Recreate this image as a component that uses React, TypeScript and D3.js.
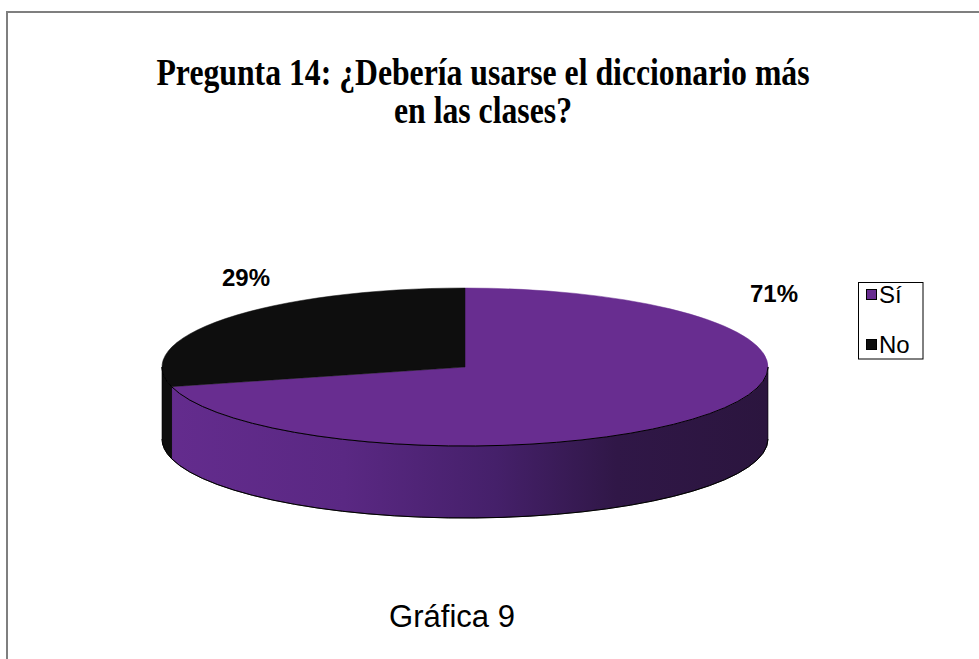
import React from "react";
import * as d3 from "d3";

const categories = ["Sí", "No"];
const values = [71, 29];
const labels = ["71%", "29%"];
const colors = ["#682d90", "#0e0e0e"];
const titleLines = ["Pregunta 14: ¿Debería usarse el diccionario más", "en las clases?"];
const caption = "Gráfica 9";

const W = 979;
const H = 659;
const cx = 465;
const cy = 367;
const rx = 303;
const ry = 79;
const depth = 72;

const pt = (a: number, dy = 0): [number, number] => [cx + rx * Math.sin(a), cy - ry * Math.cos(a) + dy];

function topPath(a0: number, a1: number) {
  const [x0, y0] = pt(a0);
  const [x1, y1] = pt(a1);
  const large = a1 - a0 > Math.PI ? 1 : 0;
  return `M${cx},${cy}L${x0},${y0}A${rx},${ry} 0 ${large} 1 ${x1},${y1}Z`;
}

function sidePath(a0: number, a1: number) {
  const s = Math.max(a0, Math.PI / 2);
  const e = Math.min(a1, (3 * Math.PI) / 2);
  if (e <= s) return null;
  const [x0, y0] = pt(s);
  const [x1, y1] = pt(e);
  return `M${x0},${y0}A${rx},${ry} 0 0 1 ${x1},${y1}L${x1},${y1 + depth}A${rx},${ry} 0 0 0 ${x0},${y0 + depth}Z`;
}

function frontEdge(a0: number, a1: number, dy: number) {
  const s = Math.max(a0, Math.PI / 2);
  const e = Math.min(a1, (3 * Math.PI) / 2);
  if (e <= s) return null;
  const [x0, y0] = pt(s, dy);
  const [x1, y1] = pt(e, dy);
  return `M${x0},${y0}A${rx},${ry} 0 0 1 ${x1},${y1}`;
}

const labelPos: [number, number][] = [
  [774, 302],
  [246, 286],
];

export default function App() {
  const pie = d3.pie<number>().sort(null).value((d) => d);
  const arcs = pie(values);
  return (
    <svg width={W} height={H} style={{ position: "absolute", left: 0, top: 0 }}>
      <defs>
        <linearGradient id="sideGrad" gradientUnits="userSpaceOnUse" x1={cx - rx} x2={cx + rx} y1={0} y2={0}>
          <stop offset="0" stopColor="#642c8e" />
          <stop offset="0.3" stopColor="#5a2883" />
          <stop offset="0.55" stopColor="#45206a" />
          <stop offset="0.75" stopColor="#301747" />
          <stop offset="1" stopColor="#2b153e" />
        </linearGradient>
      </defs>
      <rect x={0} y={0} width={W} height={H} fill="#fff" />
      <rect x={7} y={12} width={W + 20} height={H + 20} fill="none" stroke="#7f7f7f" strokeWidth={2} />
      {titleLines.map((t, i) => (
        <text
          key={i}
          x={483}
          y={85 + i * 38}
          textAnchor="middle"
          fontFamily="'Liberation Serif', 'Times New Roman', serif"
          fontWeight="bold"
          fontSize={38}
          textLength={i === 0 ? 653 : 178}
          lengthAdjust="spacingAndGlyphs"
        >
          {t}
        </text>
      ))}
      {arcs.map((a, i) => {
        const p = sidePath(a.startAngle, a.endAngle);
        return p ? (
          <path key={"s" + i} d={p} fill={i === 0 ? "url(#sideGrad)" : colors[i]} stroke="#000" strokeWidth={0.6} />
        ) : null;
      })}
      {arcs.map((a, i) => (
        <path key={"t" + i} d={topPath(a.startAngle, a.endAngle)} fill={colors[i]} stroke={colors[i]} strokeWidth={0.5} />
      ))}
      {arcs.map((a, i) => {
        const p = frontEdge(a.startAngle, a.endAngle, 0);
        const q = frontEdge(a.startAngle, a.endAngle, depth);
        return (
          <g key={"e" + i}>
            {p && <path d={p} fill="none" stroke="#000" strokeWidth={1} />}
            {q && <path d={q} fill="none" stroke="#000" strokeWidth={1} />}
          </g>
        );
      })}
      {arcs.map((a, i) => (
        <text
          key={"l" + i}
          x={labelPos[i][0]}
          y={labelPos[i][1]}
          textAnchor="middle"
          fontFamily="'Liberation Sans', Arial, sans-serif"
          fontWeight="bold"
          fontSize={24}
        >
          {labels[i]}
        </text>
      ))}
      <rect x={858.5} y={282.5} width={64.5} height={76.5} fill="#fff" stroke="#000" strokeWidth={1} />
      {categories.map((c, i) => (
        <g key={"g" + i}>
          <rect x={866.5} y={289.5 + i * 50} width={10} height={10} fill={colors[i]} stroke="#000" strokeWidth={1} />
          <text
            x={879}
            y={303 + i * 50}
            fontFamily="'Liberation Sans', Arial, sans-serif"
            fontSize={24}
          >
            {c}
          </text>
        </g>
      ))}
      <text x={452} y={627} textAnchor="middle" fontFamily="'Liberation Sans', Arial, sans-serif" fontSize={31}>
        {caption}
      </text>
    </svg>
  );
}
